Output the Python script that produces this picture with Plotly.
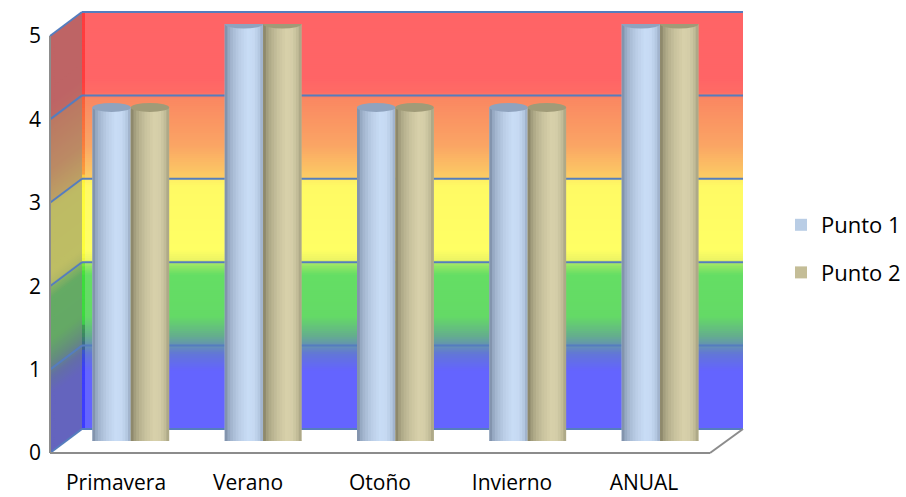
import plotly.graph_objects as go

# ---- data ----
categorias = ["Primavera", "Verano", "Otoño", "Invierno", "ANUAL"]
punto_1 = [4, 5, 4, 4, 5]
punto_2 = [4, 5, 4, 4, 5]
y_ticks = [0, 1, 2, 3, 4, 5]

# ---- canvas / 3D box geometry (pixels) ----
W, H = 906, 497
UNIT = 83.4                     # pixels per value unit
FRONT_X = (50, 710)
FRONT_Y0 = 453                  # value 0 on the front plane
BACK_X = (82, 743)
BACK_Y0 = 429                   # value 0 on the back wall
MID_X = (64.6, 726.2)           # plane through the cylinders' axes
MID_Y0 = 441
YMAX = 5

CYL_W = 0.29                    # cylinder width in category units
CAP_H = 0.054                   # half height of the elliptic caps (value units)


def px(x):
    return x / W


def py(y):
    return 1 - y / H


def yf(v):
    return FRONT_Y0 - v * UNIT


def yb(v):
    return BACK_Y0 - v * UNIT


def rgb(c):
    return "rgb(%d,%d,%d)" % tuple(int(round(ch)) for ch in c)


def interp(stops, t):
    if t <= stops[0][0]:
        return stops[0][1]
    for (t0, c0), (t1, c1) in zip(stops[:-1], stops[1:]):
        if t0 <= t <= t1:
            f = (t - t0) / (t1 - t0) if t1 > t0 else 0
            return tuple(a + (b - a) * f for a, b in zip(c0, c1))
    return stops[-1][1]


# colour bands of the back wall (value -> colour)
WALL_STOPS = [
    (0.00, (100, 100, 255)),
    (0.70, (100, 100, 255)),
    (0.90, (98, 118, 215)),
    (1.00, (100, 145, 180)),
    (1.12, (100, 175, 140)),
    (1.35, (100, 218, 102)),
    (1.85, (100, 222, 100)),
    (1.98, (160, 232, 100)),
    (2.02, (235, 243, 100)),
    (2.15, (255, 255, 100)),
    (2.90, (255, 250, 100)),
    (2.99, (255, 240, 100)),
    (3.01, (252, 205, 100)),
    (3.40, (250, 165, 100)),
    (3.97, (250, 135, 98)),
    (4.03, (255, 108, 100)),
    (4.20, (255, 100, 102)),
    (5.00, (255, 100, 102)),
]


def side_shade(c):
    return tuple(100 + (ch - 100) * 0.58 for ch in c)


def edge_shade(c):
    return tuple(ch - 40 if ch < 200 else ch for ch in c)


shapes = []
GRID = "rgb(85,125,190)"
AXIS_GRAY = "rgb(140,140,140)"

# side wall (left) and back wall, drawn as thin slices bottom to top
dv = 0.025
n = int(round(YMAX / dv))
for k in range(n):
    v0 = k * dv
    v1 = min(YMAX, v0 + dv * 1.6)
    c = interp(WALL_STOPS, v0 + dv / 2)
    path = "M %f,%f L %f,%f L %f,%f L %f,%f Z" % (
        px(FRONT_X[0]), py(yf(v0)), px(BACK_X[0]), py(yb(v0)),
        px(BACK_X[0]), py(yb(v1)), px(FRONT_X[0]), py(yf(v1)))
    shapes.append(dict(type="path", xref="paper", yref="paper", path=path,
                       fillcolor=rgb(side_shade(c)), line_width=0, layer="below"))
    shapes.append(dict(type="rect", xref="paper", yref="paper",
                       x0=px(BACK_X[0]), x1=px(BACK_X[1]),
                       y0=py(yb(v0)), y1=py(yb(v1)),
                       fillcolor=rgb(c), line_width=0, layer="below"))

# saturated strip along the left edge of the back wall
dv2 = 0.05
for k in range(int(round(YMAX / dv2))):
    v0 = k * dv2
    v1 = min(YMAX, v0 + dv2 * 1.5)
    c = interp(WALL_STOPS, v0 + dv2 / 2)
    shapes.append(dict(type="rect", xref="paper", yref="paper",
                       x0=px(BACK_X[0]), x1=px(BACK_X[0] + 3),
                       y0=py(yb(v0)), y1=py(yb(v1)),
                       fillcolor=rgb(edge_shade(c)), line_width=0, layer="below"))

# floor
floor = "M %f,%f L %f,%f L %f,%f L %f,%f Z" % (
    px(FRONT_X[0]), py(yf(0)), px(FRONT_X[1]), py(yf(0)),
    px(BACK_X[1]), py(yb(0)), px(BACK_X[0]), py(yb(0)))
shapes.append(dict(type="path", xref="paper", yref="paper", path=floor,
                   fillcolor="white", line_width=0, layer="below"))

# gridlines on the back and side walls
for v in y_ticks:
    shapes.append(dict(type="line", xref="paper", yref="paper",
                       x0=px(BACK_X[0]), x1=px(BACK_X[1]),
                       y0=py(yb(v)), y1=py(yb(v)),
                       line=dict(color=GRID, width=2), layer="below"))
    shapes.append(dict(type="line", xref="paper", yref="paper",
                       x0=px(FRONT_X[0]), x1=px(BACK_X[0]),
                       y0=py(yf(v)), y1=py(yb(v)),
                       line=dict(color=GRID, width=2), layer="below"))

# floor outline and vertical axis line
for (xa, ya, xb, yb_) in [
    (FRONT_X[0], yf(0), FRONT_X[1], yf(0)),
    (FRONT_X[1], yf(0), BACK_X[1], yb(0)),
    (FRONT_X[0], yf(0), FRONT_X[0], yf(YMAX)),
]:
    shapes.append(dict(type="line", xref="paper", yref="paper",
                       x0=px(xa), y0=py(ya), x1=px(xb), y1=py(yb_),
                       line=dict(color=AXIS_GRAY, width=2), layer="below"))

# ---- cylinders ----
SHADE_PROFILE = [
    (0.00, 0.00), (0.08, 0.35), (0.20, 0.60), (0.40, 0.85), (0.60, 1.00),
    (0.75, 0.97), (0.88, 0.80), (0.96, 0.55), (1.00, 0.40),
]

series = [
    dict(name="Punto 1", values=punto_1, offset=-CYL_W, base="#B9CDE5",
         dark=(118, 135, 160), light=(200, 220, 245), cap="rgb(143,163,190)",
         bottom="rgb(178,198,224)", group="p1"),
    dict(name="Punto 2", values=punto_2, offset=0.0, base="#C4BD97",
         dark=(128, 124, 96), light=(215, 208, 170), cap="rgb(160,155,120)",
         bottom="rgb(190,183,148)", group="p2"),
]

N_STRIPS = 14
traces = []

# invisible anchor so the front-plane axes (tick labels) get drawn
traces.append(go.Scatter(x=list(range(len(categorias))), y=[0] * len(categorias),
                         mode="markers", marker=dict(opacity=0), showlegend=False,
                         hoverinfo="skip", xaxis="x", yaxis="y"))

for s in series:
    traces.append(go.Bar(
        name=s["name"], x=categorias, y=s["values"], width=CYL_W,
        offset=s["offset"], marker=dict(color=s["base"], line_width=0),
        xaxis="x2", yaxis="y2", legendgroup=s["group"], hoverinfo="skip"))
    sw = CYL_W / N_STRIPS
    for j in range(N_STRIPS):
        t = (j + 0.5) / N_STRIPS
        f = interp([(a, (b,)) for a, b in SHADE_PROFILE], t)[0]
        col = tuple(d + (l - d) * f for d, l in zip(s["dark"], s["light"]))
        width = sw * 1.4 if j < N_STRIPS - 1 else sw
        traces.append(go.Bar(
            x=categorias, y=s["values"], width=width,
            offset=s["offset"] + j * sw, marker=dict(color=rgb(col), line_width=0),
            xaxis="x2", yaxis="y2", legendgroup=s["group"], showlegend=False,
            hoverinfo="skip"))

# elliptic bottoms (behind the bodies) and tops (in front)
for s in series:
    for i, v in enumerate(s["values"]):
        x0 = i + s["offset"]
        shapes.append(dict(type="circle", xref="x2", yref="y2",
                           x0=x0, x1=x0 + CYL_W, y0=-CAP_H, y1=CAP_H,
                           fillcolor=s["bottom"], line_width=0, layer="below"))
for s in series:
    for i, v in enumerate(s["values"]):
        x0 = i + s["offset"]
        shapes.append(dict(type="circle", xref="x2", yref="y2",
                           x0=x0, x1=x0 + CYL_W, y0=v - CAP_H, y1=v + CAP_H,
                           fillcolor=s["cap"], line_width=0, layer="above"))

FONT = dict(family="Open Sans, Lato, sans-serif", size=21, color="black")
LEGEND_FONT = dict(family="Open Sans, Lato, sans-serif", size=22, color="black")

fig = go.Figure(data=traces)
fig.update_layout(
    width=W, height=H, autosize=False,
    margin=dict(l=0, r=0, t=0, b=0, pad=0),
    paper_bgcolor="white", plot_bgcolor="rgba(0,0,0,0)",
    barmode="overlay",
    font=FONT,
    shapes=shapes,
    showlegend=True,
    legend=dict(x=px(781), xanchor="left", y=py(249), yanchor="middle",
                font=LEGEND_FONT, tracegroupgap=16, bgcolor="rgba(0,0,0,0)"),
    xaxis=dict(domain=[px(FRONT_X[0]), px(FRONT_X[1])], range=[-0.5, 4.5],
               anchor="y", tickmode="array", tickvals=list(range(len(categorias))),
               ticktext=categorias, showgrid=False, zeroline=False, showline=False,
               ticks="", ticklabelstandoff=15, tickfont=FONT, fixedrange=True,
               automargin=False),
    yaxis=dict(domain=[py(yf(0)), py(yf(YMAX))], range=[0, YMAX], anchor="x",
               tickmode="array", tickvals=y_ticks, showgrid=False, zeroline=False,
               showline=False, ticks="", ticklabelstandoff=8, tickfont=FONT,
               fixedrange=True, automargin=False),
    xaxis2=dict(domain=[px(MID_X[0]), px(MID_X[1])], range=[-0.5, 4.5],
                anchor="y2", type="category", categoryorder="array",
                categoryarray=categorias, visible=False, fixedrange=True,
                automargin=False),
    yaxis2=dict(domain=[py(MID_Y0), py(MID_Y0 - YMAX * UNIT)], range=[0, YMAX],
                anchor="x2", visible=False, fixedrange=True, automargin=False),
)

fig.write_html("out.html")
